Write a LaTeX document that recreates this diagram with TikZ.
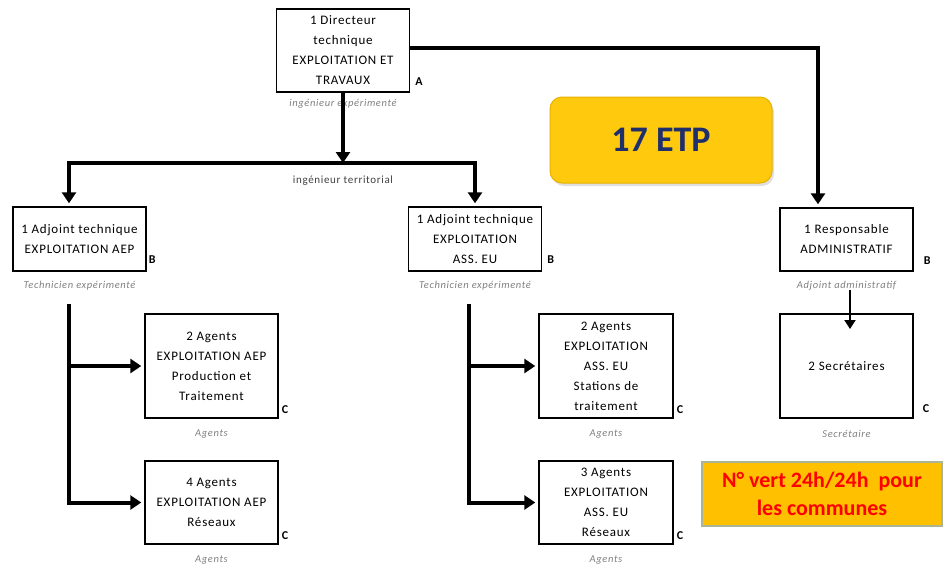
\documentclass[tikz,border=0pt]{standalone}
\usepackage{fontspec}
\setmainfont{Carlito}
\newfontfamily\widefont[LetterSpace=6]{Carlito}
\usepackage{tikz}
\usetikzlibrary{positioning, arrows.meta, shadows}

\definecolor{etpgold}{HTML}{FFC90E}
\definecolor{etpedge}{HTML}{E8B100}
\definecolor{etpnavy}{HTML}{1F2F6B}
\definecolor{vertfill}{HTML}{FFC000}
\definecolor{vertedge}{HTML}{A9B596}

\begin{document}
\begin{tikzpicture}
	[x=1pt, y=-1pt,
	 box/.style={draw, line width=1.4pt, minimum width=133pt, align=center, inner sep=0pt,
	   font=\widefont\fontsize{13}{20}\selectfont},
	 sub/.style={font=\widefont\fontsize{10.5}{10}\selectfont\itshape, text=black!50, inner sep=0pt},
	 grade/.style={font=\fontsize{12}{12}\selectfont\bfseries, inner sep=0pt, anchor=base west},
	 link/.style={line width=4pt, -{Triangle[length=11pt,width=14pt]}, shorten >=3pt},
	 fine link/.style={line width=2pt, -{Triangle[length=9pt,width=11pt]}}]
   \useasboundingbox (0,0) rectangle (946,571);

   % direction
   \node[box, minimum height=83pt] (dir) at (343,50.5)
     {1 Directeur\\technique\\EXPLOITATION ET\\TRAVAUX};
   \node[grade] (dir_g) at ([xshift=5pt,yshift=7pt]dir.south east) {A};
   \node[sub] (dir_s) [below=6pt of dir] {ingénieur expérimenté};

   % adjoints
   \node[box, minimum height=64pt] (adjAEP) at (79.5,239)
     {1 Adjoint technique\\EXPLOITATION AEP};
   \node[grade] (adjAEP_g) at ([xshift=2pt,yshift=8pt]adjAEP.south east) {B};
   \node[sub] (adjAEP_s) [below=9pt of adjAEP] {Technicien expérimenté};

   \node[box, minimum height=64pt] (adjASS) at (475,239)
     {1 Adjoint technique\\EXPLOITATION\\ASS. EU};
   \node[grade] (adjASS_g) at ([xshift=5pt,yshift=8pt]adjASS.south east) {B};
   \node[sub] (adjASS_s) [below=9pt of adjASS] {Technicien expérimenté};

   \node[box, minimum height=63pt] (resp) at (846.5,239.5)
     {1 Responsable\\ADMINISTRATIF};
   \node[grade] (resp_g) at ([xshift=10pt,yshift=7pt]resp.south east) {B};
   \node[sub] (resp_s) [below=9pt of resp] {Adjoint administratif};

   % agents
   \node[box, minimum height=104pt] (aepProd) at (211.5,366)
     {2 Agents\\EXPLOITATION AEP\\Production et\\Traitement};
   \node[grade] (aepProd_g) at ([xshift=3pt,yshift=5pt]aepProd.south east) {C};
   \node[sub] (aepProd_s) [below=11pt of aepProd] {Agents};

   \node[box, minimum height=83pt] (aepRes) at (211.5,502.5)
     {4 Agents\\EXPLOITATION AEP\\Réseaux};
   \node[grade] (aepRes_g) at ([xshift=3pt,yshift=5pt]aepRes.south east) {C};
   \node[sub] (aepRes_s) [below=11pt of aepRes] {Agents};

   \node[box, minimum height=104pt, minimum width=134pt] (assSta) at (606,366)
     {2 Agents\\EXPLOITATION\\ASS. EU\\Stations de\\traitement};
   \node[grade] (assSta_g) at ([xshift=3pt,yshift=5pt]assSta.south east) {C};
   \node[sub] (assSta_s) [below=11pt of assSta] {Agents};

   \node[box, minimum height=83pt, minimum width=134pt] (assRes) at (606,502.5)
     {3 Agents\\EXPLOITATION\\ASS. EU\\Réseaux};
   \node[grade] (assRes_g) at ([xshift=3pt,yshift=5pt]assRes.south east) {C};
   \node[sub] (assRes_s) [below=11pt of assRes] {Agents};

   \node[box, minimum height=104pt] (sec) at (846.5,366) {2 Secrétaires};
   \node[grade] (sec_g) at ([xshift=9pt,yshift=6pt]sec.south east) {C};
   \node[sub] (sec_s) [below=11pt of sec] {Secrétaire};

   % encarts
   \node[draw=etpedge, line width=1pt, fill=etpgold, rounded corners=12pt,
     minimum width=222pt, minimum height=86pt,
     drop shadow={opacity=0.25, shadow xshift=2pt, shadow yshift=-3pt},
     text=etpnavy, font=\fontsize{36}{36}\selectfont\bfseries] (etp) at (661,140) {17 ETP};
   \node[draw=vertedge, line width=1.2pt, fill=vertfill, minimum width=240pt,
     minimum height=64pt, align=center, text=red,
     font=\fontsize{22}{28}\selectfont\bfseries] (vert) at (822,494)
     {N° vert 24h/24h~ pour\\les communes};

   % liaisons
   \coordinate (bar) at (343,163);
   \coordinate (barL) at (69,163);
   \coordinate (resCorner) at (818,48);
   \coordinate (aepTop) at (69,304);
   \coordinate (assTop) at (469,304);
   \coordinate (secTip) at (850,329);

   \draw[link, shorten >=0pt] (dir.south) -- (bar);
   \draw[link] (bar) -- (barL) -- (barL |- adjAEP.north);
   \draw[link] (bar) -| (adjASS.north);
   \node[font=\widefont\fontsize{11}{10}\selectfont, text=black!75, inner sep=0pt] (bar_s)
     [below=13pt of bar] {ingénieur territorial};
   \draw[link, line width=3.5pt] (dir.east |- resCorner) -- (resCorner) -- (resCorner |- resp.north);

   \draw[link] (aepTop) |- (aepRes.west);
   \draw[link] (aepTop |- aepProd.west) -- (aepProd.west);
   \draw[link] (assTop) |- (assRes.west);
   \draw[link] (assTop |- assSta.west) -- (assSta.west);
   \draw[fine link] (resp_s.south -| secTip) -- (secTip);

\end{tikzpicture}
\end{document}
